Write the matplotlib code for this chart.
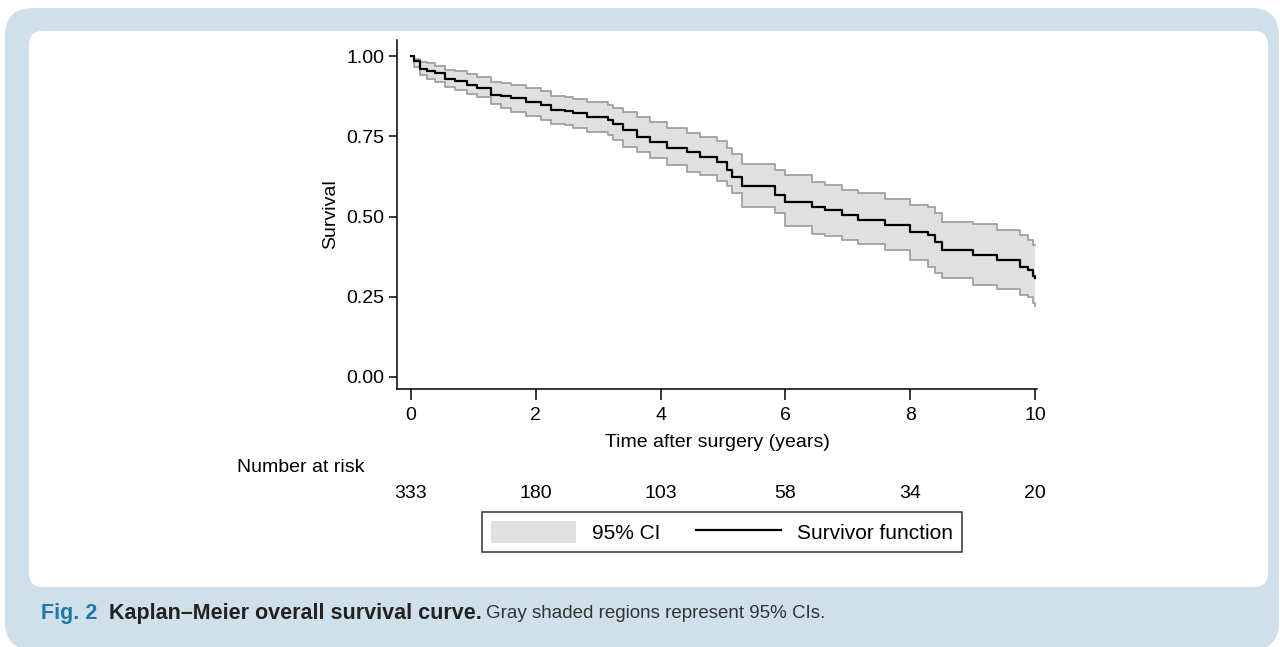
import numpy as np
import matplotlib.pyplot as plt
from matplotlib.patches import FancyBboxPatch, Patch
from matplotlib.lines import Line2D

plt.rcParams['font.family'] = ['Liberation Sans', 'DejaVu Sans']

# ---- data (step function) ---- #
time_yr = [0, 0.05, 0.14, 0.25, 0.38, 0.55, 0.70, 0.89, 1.05, 1.29, 1.45, 1.61,
           1.85, 2.09, 2.25, 2.47, 2.60, 2.82, 3.16, 3.24, 3.40, 3.62, 3.83, 4.10,
           4.42, 4.63, 4.90, 5.06, 5.14, 5.30, 5.83, 5.99, 6.42, 6.63, 6.90, 7.17,
           7.60, 8.00, 8.29, 8.40, 8.50, 9.01, 9.39, 9.76, 9.89, 9.97, 10.0]
survival = [1.00, 0.985, 0.960, 0.952, 0.946, 0.930, 0.922, 0.911, 0.900, 0.880, 0.874, 0.868,
            0.858, 0.849, 0.832, 0.829, 0.821, 0.809, 0.802, 0.788, 0.769, 0.749, 0.733, 0.712,
            0.702, 0.686, 0.670, 0.645, 0.624, 0.595, 0.567, 0.546, 0.531, 0.520, 0.505, 0.489,
            0.473, 0.453, 0.442, 0.422, 0.395, 0.380, 0.364, 0.343, 0.333, 0.315, 0.310]
ci_upper = [1.00, 0.990, 0.980, 0.977, 0.970, 0.958, 0.952, 0.945, 0.935, 0.920, 0.915, 0.910,
            0.900, 0.890, 0.876, 0.873, 0.866, 0.856, 0.847, 0.837, 0.827, 0.810, 0.795, 0.775,
            0.759, 0.748, 0.735, 0.712, 0.695, 0.665, 0.645, 0.629, 0.609, 0.598, 0.583, 0.572,
            0.556, 0.536, 0.531, 0.510, 0.484, 0.478, 0.458, 0.442, 0.427, 0.411, 0.410]
ci_lower = [1.00, 0.965, 0.940, 0.930, 0.920, 0.904, 0.895, 0.882, 0.873, 0.850, 0.838, 0.827,
            0.812, 0.800, 0.787, 0.785, 0.776, 0.762, 0.754, 0.738, 0.718, 0.700, 0.681, 0.660,
            0.640, 0.628, 0.612, 0.594, 0.572, 0.531, 0.510, 0.469, 0.447, 0.438, 0.427, 0.415,
            0.396, 0.364, 0.343, 0.325, 0.307, 0.287, 0.275, 0.255, 0.250, 0.230, 0.220]

risk_times = [0, 2, 4, 6, 8, 10]
at_risk = [333, 180, 103, 58, 34, 20]

fig = plt.figure(figsize=(12.8, 6.47), dpi=100)

# background panels, drawn in pixel units
bg = fig.add_axes([0, 0, 1, 1], zorder=-1)
bg.set_xlim(0, 1280)
bg.set_ylim(647, 0)
bg.axis('off')
bg.add_patch(FancyBboxPatch((5 + 28, 8 + 28), 1274 - 56, 642 - 56,
                            boxstyle='round,pad=28', fc='#cfe0ea', ec='none'))
bg.add_patch(FancyBboxPatch((29 + 14, 31 + 14), 1239 - 28, 556 - 28,
                            boxstyle='round,pad=14', fc='white', ec='none'))

ax = fig.add_axes([397 / 1280, 1 - 389 / 647, 640 / 1280, 349 / 647])
ax.fill_between(time_yr, ci_lower, ci_upper, step='post', color='#e0e0e0', lw=0)
ax.step(time_yr, ci_upper, where='post', color='#a0a0a0', lw=1.3)
ax.step(time_yr, ci_lower, where='post', color='#a0a0a0', lw=1.3)
ax.step(time_yr, survival, where='post', color='black', lw=1.6)

ax.set_xlim(-0.224, 10.03)
ax.set_ylim(-0.0374, 1.05)
ax.set_xticks(risk_times)
ax.set_yticks([0, 0.25, 0.5, 0.75, 1.0])
ax.set_yticklabels(['0.00', '0.25', '0.50', '0.75', '1.00'])
for s in ['top', 'right']:
    ax.spines[s].set_visible(False)
for s in ['left', 'bottom']:
    ax.spines[s].set_linewidth(1.1)
ax.tick_params(labelsize=14, length=6, width=1.1, pad=3)
ax.tick_params(axis='x', length=8, pad=5)
ax.set_xlabel('Time after surgery (years)', fontsize=14, labelpad=7)
ax.set_ylabel('Survival', fontsize=14, labelpad=5)

# number at risk table
trans = ax.get_xaxis_transform()
ax.text(-0.737, -0.2235, 'Number at risk', transform=trans, ha='right', va='center',
        fontsize=14, clip_on=False)
for t, n in zip(risk_times, at_risk):
    ax.text(t, -0.30, str(n), transform=trans, ha='center', va='center',
            fontsize=14, clip_on=False)

handles = [Patch(facecolor='#e0e0e0', edgecolor='none'),
           Line2D([], [], color='black', lw=1.6)]
leg = fig.legend(handles, ['95% CI', 'Survivor function'], ncol=2,
                 loc='center', bbox_to_anchor=(722 / 1280, 1 - 532 / 647),
                 fontsize=15, frameon=True, fancybox=False, edgecolor='black',
                 handlelength=4.1, handleheight=1.2, handletextpad=0.75,
                 columnspacing=1.7, borderpad=0.45)
leg.get_frame().set_linewidth(1.1)

# caption
r = fig.canvas.get_renderer()
cy = 1 - 613 / 647
t1 = fig.text(41 / 1280, cy, 'Fig. 2', color='#1f77aa', fontsize=15.5,
              fontweight='bold', va='center')
x = t1.get_window_extent(r).x1 + 12
t2 = fig.text(x / 1280, cy, 'Kaplan\u2013Meier overall survival curve.', color='#222222',
              fontsize=15.5, fontweight='bold', va='center')
x = t2.get_window_extent(r).x1 + 4
fig.text(x / 1280, cy, 'Gray shaded regions represent 95% CIs.', color='#333333',
         fontsize=13.5, va='center')

fig.savefig('out.png', dpi=100)
